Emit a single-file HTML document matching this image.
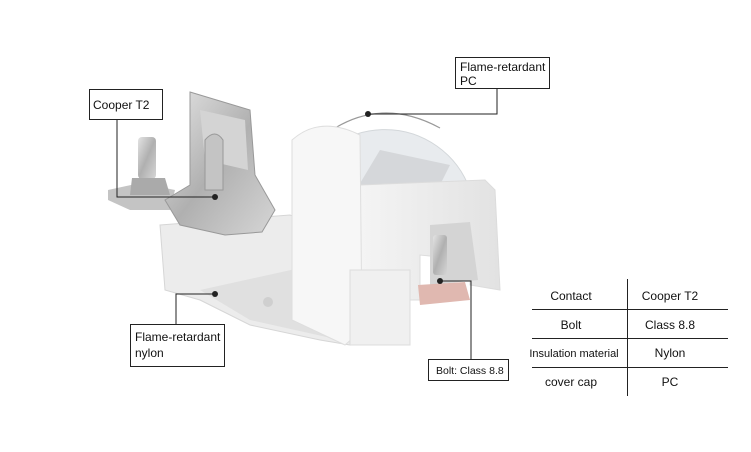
<!DOCTYPE html>
<html><head><style>
body{margin:0;background:#fff;width:751px;height:452px;overflow:hidden;font-family:"Liberation Sans",sans-serif}
svg{position:absolute;left:0;top:0}
</style></head><body>
<svg width="751" height="452" viewBox="0 0 751 452" xmlns="http://www.w3.org/2000/svg">
<defs>
<linearGradient id="m" x1="0" y1="0" x2="1" y2="1"><stop offset="0" stop-color="#e4e4e4"/><stop offset="0.5" stop-color="#b0b0b0"/><stop offset="1" stop-color="#d6d6d6"/></linearGradient>
<linearGradient id="w" x1="0" y1="0" x2="1" y2="0"><stop offset="0" stop-color="#f4f4f4"/><stop offset="1" stop-color="#e2e2e2"/></linearGradient>
</defs>
<!-- nylon base -->
<path d="M160 225 L290 215 L345 235 L350 345 L320 340 L250 325 L200 300 L165 290 Z" fill="#ececec" stroke="#d6d6d6"/>
<path d="M200 290 L300 268 L345 290 L340 340 L250 320 Z" fill="#e0e0e0"/>
<circle cx="268" cy="302" r="5" fill="#cfcfcf"/><circle cx="300" cy="295" r="6" fill="#d8d8d8"/>
<!-- metal clamp -->
<path d="M108 190 L140 183 L175 190 L170 210 L130 210 L108 200 Z" fill="#c4c4c4"/>
<rect x="138" y="137" width="18" height="42" rx="4" fill="url(#m)"/>
<path d="M132 178 L165 178 L170 195 L130 195 Z" fill="#aaa"/>
<path d="M190 92 L250 110 L255 175 L275 210 L262 232 L225 235 L180 225 L165 200 L190 185 Z" fill="url(#m)" stroke="#999"/>
<path d="M200 110 L245 120 L248 170 L205 160 Z" fill="#d4d4d4"/>
<path d="M205 140 q10 -12 18 0 l0 50 l-18 0z" fill="#c4c4c4" stroke="#999"/>
<!-- dome -->
<path d="M300 190 A90 90 0 0 1 470 190 Z" fill="#e8ebee" stroke="#d3d7da"/>
<path d="M335 128 Q385 98 440 128" fill="none" stroke="#999" stroke-width="1.2"/>
<path d="M350 200 L440 185 L450 165 L380 150 Z" fill="#cfd2d4" opacity="0.8"/>
<!-- housing top block -->
<path d="M360 185 L485 180 L495 190 L500 290 L470 285 L470 260 L420 255 L420 300 L360 300 Z" fill="url(#w)" stroke="#dcdcdc"/>
<path d="M430 225 L470 222 L478 280 L430 285 Z" fill="#d4d4d4"/>
<rect x="433" y="235" width="14" height="40" rx="3" fill="url(#m)"/>
<path d="M418 285 L465 282 L470 300 L420 305 Z" fill="#e0b8b0"/>
<!-- front face -->
<path d="M292 140 Q320 115 360 135 L362 330 L345 345 L292 320 Z" fill="#f7f7f7" stroke="#dedede"/>
<rect x="350" y="270" width="60" height="75" fill="#f0f0f0" stroke="#ddd"/>
<!-- labels -->
<g fill="none" stroke="#222" stroke-width="1">
<rect x="89.5" y="89.5" width="73" height="30" fill="#fff"/>
<polyline points="117,120 117,197 215,197"/>
<rect x="455.5" y="57.5" width="94" height="31" fill="#fff"/>
<polyline points="497,89 497,114 368,114"/>
<rect x="130.5" y="324.5" width="94" height="42" fill="#fff"/>
<polyline points="176,324 176,294 215,294"/>
<rect x="428.5" y="359.5" width="80" height="21" fill="#fff"/>
<polyline points="471,359 471,281 440,281"/>
<line x1="627.5" y1="279" x2="627.5" y2="396"/>
<line x1="532" y1="309.5" x2="728" y2="309.5"/>
<line x1="532" y1="338.5" x2="728" y2="338.5"/>
<line x1="532" y1="367.5" x2="728" y2="367.5"/>
</g>
<g fill="#222"><circle cx="215" cy="197" r="3"/><circle cx="368" cy="114" r="3"/><circle cx="215" cy="294" r="3"/><circle cx="440" cy="281" r="3"/></g>
<g font-size="12" fill="#111">
<text x="93" y="109">Cooper T2</text>
<text x="460" y="71">Flame-retardant</text><text x="460" y="85">PC</text>
<text x="135" y="341">Flame-retardant</text><text x="135" y="357">nylon</text>
<text x="436" y="374" font-size="10.5">Bolt: Class 8.8</text>
</g>
<g font-size="12" fill="#111" text-anchor="middle">
<text x="571" y="300">Contact</text><text x="670" y="300">Cooper T2</text>
<text x="571" y="329">Bolt</text><text x="670" y="329">Class 8.8</text>
<text x="574" y="357" font-size="11">Insulation material</text><text x="670" y="357">Nylon</text>
<text x="571" y="386">cover cap</text><text x="670" y="386">PC</text>
</g>
</svg>
</body></html>
